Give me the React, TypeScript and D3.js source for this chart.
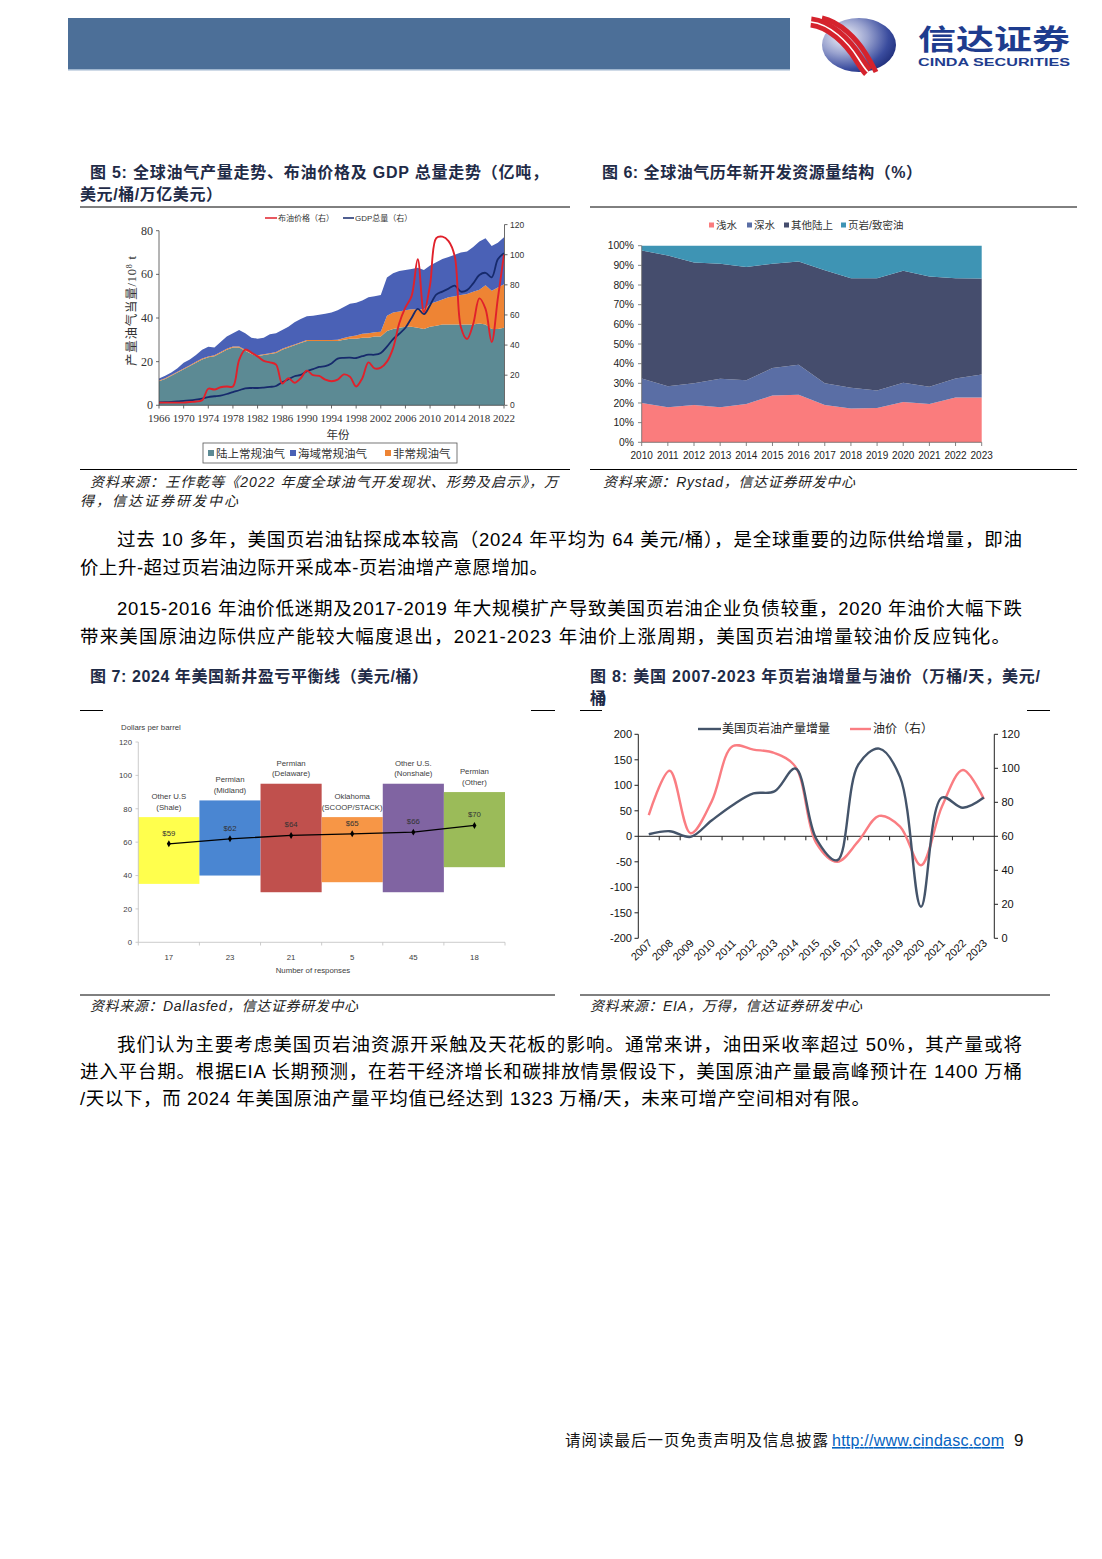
import React from 'react';
import * as d3 from 'd3';

// ================= Fig 5 data =================
const years5 = [1966,1967,1968,1969,1970,1971,1972,1973,1974,1975,
  1976,1977,1978,1979,1980,1981,1982,1983,1984,1985,
  1986,1987,1988,1989,1990,1991,1992,1993,1994,1995,
  1996,1997,1998,1999,2000,2001,2002,2003,2004,2005,
  2006,2007,2008,2009,2010,2011,2012,2013,2014,2015,
  2016,2017,2018,2019,2020,2021,2022];
const land5 = [11,12,13.5,15,16.5,18,19.5,21,22,22.5,
  24,25.5,26.5,26.5,25,23.5,22.5,23,23.5,24,
  25.5,26.5,27.5,28.5,29.5,29.5,29.5,29.5,29.5,29.5,
  30,30.5,30.5,31,31,31.5,31.5,34,35,35.5,
  36,36,35.5,35,36,36.5,37,37,37,37,
  37,37,37.5,37,35,35,35.5];
const uncon5 = [0.4,0.4,0.4,0.4,0.4,0.4,0.4,0.4,0.4,0.4,
  0.4,0.4,0.4,0.4,0.4,0.4,0.4,0.4,0.4,0.4,
  0.4,0.4,0.4,0.4,0.4,0.4,0.4,0.4,0.4,0.5,
  0.8,1,1.5,1.8,2,2,2.2,7,7.5,7.5,
  7.5,8,8.5,9,10.5,11,11.5,12.5,13,13.5,
  14,15,15.5,18,17.5,19,20];
const offshore5 = [0.9,1.1,1.1,1.6,2.6,2.6,3.1,4.1,4.4,3.6,
  4.6,5.6,6.1,7.6,7.6,7.1,7.6,7.6,8.6,8.6,
  8.6,9.1,10.1,10.6,10.9,11.1,11.6,12.1,12.6,13.5,
  14.2,15,15,15.2,16.5,16.5,16.8,17.5,18,18.5,
  18.5,18.5,19,18,17.5,18,18.5,18.5,19,19.5,
  19.5,20.5,22,21.5,20.5,20.5,21.5];
const brent5 = [1.8,1.8,1.8,1.8,1.8,2.2,2.5,3.3,11,10.5,
  12,12.5,12.5,30,37,35,32.5,29.5,28.5,27,
  14.5,18,15,18,23,20,19.5,17,16,17,
  20.5,19,12.5,18,28.5,24.5,25,29,38,54.5,
  65,72.5,97,62,80,111,112,109,99,52,
  44,54,71,64,42,71,100];
const gdp5 = [2,2.1,2.3,2.6,3,3.3,3.8,4.5,5.5,6,
  6.5,7.5,8.8,10,11.3,11.5,11.5,11.8,12.2,12.8,
  15.3,17.3,19.3,20.2,22.7,24,25.5,26,27.8,31,
  31.5,31.6,31.4,32.6,33.6,33.6,34.8,39,44,47.5,
  51.5,58,64,60.5,66.5,73.5,75.5,77.5,79.5,75.5,
  76.5,81,86.5,88,85,97,101];
const xTicks5 = [1966,1970,1974,1978,1982,1986,1990,1994,1998,2002,2006,2010,2014,2018,2022];
const yTicksL5 = [0,20,40,60,80];
const yTicksR5 = [0,20,40,60,80,100,120];
const legend5 = ['陆上常规油气','海域常规油气','非常规油气'];

// ================= Fig 6 data =================
const years6 = [2010,2011,2012,2013,2014,2015,2016,2017,2018,2019,2020,2021,2022,2023];
const shallow6 = [20,17.8,19,17.8,19.5,23.8,24.2,19,17.2,17.5,20.5,19.5,22.8,22.8];
const deep6 = [12.5,10.7,11,14.5,12,14,15.3,11,10.6,8.8,9.8,8.8,9.7,11.7];
const other6 = [65,66.5,61.5,58.5,57.7,53,52.5,57.5,55.7,57.2,57,56,51,48.8];
const shale6 = [2.5,5,8.5,9.2,10.8,9.2,8,12.5,16.5,16.5,12.7,15.7,16.5,16.7];
const legend6 = ['浅水','深水','其他陆上','页岩/致密油'];
const yTicks6 = [0,10,20,30,40,50,60,70,80,90,100];

// ================= Fig 7 data =================
const regionTop7 = ['Other U.S','Permian','Permian','Oklahoma','Other U.S.','Permian'];
const regionSub7 = ['(Shale)','(Midland)','(Delaware)','(SCOOP/STACK)','(Nonshale)','(Other)'];
const low7 = [35,40,30,36,30,45];
const high7 = [75,85,95,75,95,90];
const avg7 = [59,62,64,65,66,70];
const responses7 = [17,23,21,5,45,18];
const yTicks7 = [0,20,40,60,80,100,120];

// ================= Fig 8 data =================
const years8 = [2007,2008,2009,2010,2011,2012,2013,2014,2015,2016,2017,2018,2019,2020,2021,2022,2023];
const shale8 = [4,10,-1,31,61,84,88,133,-5,-47,140,172,116,-138,76,56,76];
const oil8 = [72.5,98.6,61.8,80.4,113,111,109,101,56,45,57,72,65.7,43,77.5,99,82];
const yTicksL8 = [-200,-150,-100,-50,0,50,100,150,200];
const yTicksR8 = [0,20,40,60,80,100,120];

const CJK = "'Liberation Sans', Arial, 'Noto Sans CJK SC', sans-serif";
const SERIF = "'Liberation Serif', 'Times New Roman', 'Noto Sans CJK SC', serif";
const NARROW = "'Liberation Sans Narrow', 'Liberation Sans', Arial, sans-serif";

const C5 = { land: '#5C8A94', uncon: '#EE8434', offshore: '#4A61B6', brent: '#E0212B', gdp: '#162A6C' };
const C6 = ['#FA7C7D', '#5A6EA5', '#454D6D', '#3E94B4'];
const C7 = ['#FFFF4D', '#4A86D2', '#C0504D', '#F79646', '#8064A2', '#9BBB59'];

function Chart5() {
  const x = d3.scaleLinear().domain([1966, 2022]).range([159, 504]);
  const yL = d3.scaleLinear().domain([0, 80]).range([405.3, 230.7]);
  const yR = d3.scaleLinear().domain([0, 120]).range([405.3, 224.6]);
  const table = years5.map((yr, i) => ({ year: yr, land: land5[i], uncon: uncon5[i], offshore: offshore5[i] }));
  const keys = ['land', 'uncon', 'offshore'];
  const series = d3.stack().keys(keys)(table as any);
  const area = d3.area<any>().x((d) => x(d.data.year)).y0((d) => yL(d[0])).y1((d) => yL(d[1]));
  const line = d3.line<number>().x((d, i) => x(years5[i])).y((d) => yR(d)).curve(d3.curveCatmullRom.alpha(0.5));
  const legendCols = [C5.land, C5.offshore, C5.uncon];
  const legendX = [208, 290, 385];
  return (
    <g>
      {series.map((s: any) => (
        <path key={s.key} d={area(s) || ''} fill={(C5 as any)[s.key]} />
      ))}
      <path d={line(gdp5) || ''} fill="none" stroke={C5.gdp} strokeWidth={1.8} />
      <path d={line(brent5) || ''} fill="none" stroke={C5.brent} strokeWidth={1.9} />
      <line x1={159} x2={159} y1={230.7} y2={405.3} stroke="#444" strokeWidth={0.8} />
      {yTicksL5.map((t) => (
        <g key={t}>
          <line x1={156} x2={159} y1={yL(t)} y2={yL(t)} stroke="#444" strokeWidth={0.8} />
          <text x={153} y={yL(t) + 4} fontSize={12} fontFamily={SERIF} textAnchor="end" fill="#333">{t}</text>
        </g>
      ))}
      <line x1={159} x2={504} y1={405.3} y2={405.3} stroke="#444" strokeWidth={0.8} />
      {xTicks5.map((t) => (
        <g key={t}>
          <line x1={x(t)} x2={x(t)} y1={405.3} y2={408.5} stroke="#444" strokeWidth={0.8} />
          <text x={x(t)} y={421.5} fontSize={11} fontFamily={SERIF} textAnchor="middle" fill="#333">{t}</text>
        </g>
      ))}
      <text x={338} y={439} fontSize={11.5} fontFamily={SERIF} textAnchor="middle" fill="#333">年份</text>
      <line x1={504.5} x2={504.5} y1={224.6} y2={405.3} stroke="#444" strokeWidth={0.8} />
      {yTicksR5.map((t) => (
        <g key={t}>
          <line x1={504.5} x2={507.5} y1={yR(t)} y2={yR(t)} stroke="#444" strokeWidth={0.8} />
          <text x={510} y={yR(t) + 3} fontSize={8.5} fontFamily={CJK} fill="#333">{t}</text>
        </g>
      ))}
      <text transform="translate(136,311) rotate(-90)" fontSize={12.5} fontFamily={SERIF} textAnchor="middle" fill="#333" textLength={110} lengthAdjust="spacing">
        产量油气当量/10<tspan dy={-4} fontSize={8}>8</tspan><tspan dy={4}> t</tspan>
      </text>
      <line x1={265} x2={277} y1={218} y2={218} stroke={C5.brent} strokeWidth={1.5} />
      <text x={278} y={221} fontSize={8} fontFamily={CJK} fill="#333">布油价格（右）</text>
      <line x1={343} x2={354} y1={218} y2={218} stroke={C5.gdp} strokeWidth={1.5} />
      <text x={355} y={221} fontSize={8} fontFamily={CJK} fill="#333">GDP总量（右）</text>
      <rect x={203} y={443} width={254} height={20} fill="#fff" stroke="#555" strokeWidth={0.8} />
      {legend5.map((n, i) => (
        <g key={n}>
          <rect x={legendX[i]} y={450} width={6} height={6} fill={legendCols[i]} />
          <text x={legendX[i] + 8} y={457.5} fontSize={11.5} fontFamily={SERIF} fill="#333">{n}</text>
        </g>
      ))}
    </g>
  );
}

function Chart6() {
  const x = d3.scaleLinear().domain([2010, 2023]).range([641.7, 981.7]);
  const y = d3.scaleLinear().domain([0, 100]).range([442.3, 245.7]);
  const table = years6.map((yr, i) => ({ year: yr, a: shallow6[i], b: deep6[i], c: other6[i], d: shale6[i] }));
  const series = d3.stack().keys(['a', 'b', 'c', 'd'])(table as any);
  const area = d3.area<any>().x((d) => x(d.data.year)).y0((d) => y(d[0])).y1((d) => y(d[1]));
  const legX = [709, 747, 784, 841];
  return (
    <g>
      {series.map((s: any, i: number) => (
        <path key={s.key} d={area(s) || ''} fill={C6[i]} />
      ))}
      <line x1={641.7} x2={641.7} y1={245.7} y2={442.3} stroke="#666" strokeWidth={0.8} />
      {yTicks6.map((t) => (
        <g key={t}>
          <line x1={638} x2={641.7} y1={y(t)} y2={y(t)} stroke="#666" strokeWidth={0.8} />
          <text x={634} y={y(t) + 3.6} fontSize={10.3} fontFamily={CJK} textAnchor="end" fill="#222">{t}%</text>
        </g>
      ))}
      <line x1={641.7} x2={981.7} y1={442.3} y2={442.3} stroke="#666" strokeWidth={0.8} />
      {years6.map((t) => (
        <g key={t}>
          <line x1={x(t)} x2={x(t)} y1={442.3} y2={446} stroke="#666" strokeWidth={0.8} />
          <text x={x(t)} y={459} fontSize={10} fontFamily={CJK} textAnchor="middle" fill="#222">{t}</text>
        </g>
      ))}
      {legend6.map((n, i) => (
        <g key={n}>
          <rect x={legX[i]} y={222.5} width={5} height={5} fill={C6[i]} />
          <text x={legX[i] + 7} y={228.8} fontSize={10.5} fontFamily={CJK} fill="#333">{n}</text>
        </g>
      ))}
    </g>
  );
}

function Chart7() {
  const idx = regionSub7.map((_, i) => String(i));
  const x = d3.scaleBand().domain(idx).range([138.3, 505]).padding(0);
  const y = d3.scaleLinear().domain([0, 120]).range([942.3, 742]);
  const bw = x.bandwidth();
  const cx = (i: number) => (x(String(i)) as number) + bw / 2;
  const line = d3.line<number>().x((d, i) => cx(i)).y((d) => y(d));
  const bounds = idx.map((k) => x(k) as number).concat([505]);
  return (
    <g>
      {low7.map((lo, i) => (
        <rect key={i} x={x(String(i))} y={y(high7[i])} width={bw} height={y(lo) - y(high7[i])} fill={C7[i]} />
      ))}
      <path d={line(avg7) || ''} fill="none" stroke="#000" strokeWidth={1.3} />
      {avg7.map((v, i) => (
        <g key={i}>
          <path d={d3.symbol(d3.symbolDiamond, 14)() || ''} transform={`translate(${cx(i)},${y(v)})`} fill="#000" />
          <text x={cx(i)} y={y(v) - 8} fontSize={7.8} fontFamily={NARROW} textAnchor="middle" fill="#333">${v}</text>
          <text x={cx(i)} y={y(high7[i]) - 18} fontSize={7.8} fontFamily={NARROW} textAnchor="middle" fill="#404040">{regionTop7[i]}</text>
          <text x={cx(i)} y={y(high7[i]) - 7.5} fontSize={7.8} fontFamily={NARROW} textAnchor="middle" fill="#404040">{regionSub7[i]}</text>
          <text x={cx(i)} y={959.5} fontSize={7.8} fontFamily={NARROW} textAnchor="middle" fill="#404040">{responses7[i]}</text>
        </g>
      ))}
      <line x1={138.3} x2={138.3} y1={742} y2={942.3} stroke="#BFBFBF" strokeWidth={0.8} />
      {yTicks7.map((t) => (
        <g key={t}>
          <line x1={135.5} x2={138.3} y1={y(t)} y2={y(t)} stroke="#BFBFBF" strokeWidth={0.8} />
          <text x={132} y={y(t) + 2.8} fontSize={7.8} fontFamily={NARROW} textAnchor="end" fill="#404040">{t}</text>
        </g>
      ))}
      <line x1={138.3} x2={505} y1={942.3} y2={942.3} stroke="#BFBFBF" strokeWidth={0.8} />
      {bounds.map((b, i) => (
        <line key={i} x1={b} x2={b} y1={942.3} y2={945.5} stroke="#BFBFBF" strokeWidth={0.8} />
      ))}
      <text x={121} y={730} fontSize={7.8} fontFamily={NARROW} fill="#404040">Dollars per barrel</text>
      <text x={313} y={973} fontSize={7.8} fontFamily={NARROW} textAnchor="middle" fill="#404040">Number of responses</text>
    </g>
  );
}

function Chart8() {
  const x = d3.scaleBand().domain(years8.map(String)).range([638.3, 994.3]).padding(0);
  const yL = d3.scaleLinear().domain([-200, 200]).range([938.3, 734.3]);
  const yR = d3.scaleLinear().domain([0, 120]).range([938.3, 734.3]);
  const bw = x.bandwidth();
  const cx = (i: number) => (x(String(years8[i])) as number) + bw / 2;
  const lineL = d3.line<number>().x((d, i) => cx(i)).y((d) => yL(d)).curve(d3.curveCatmullRom.alpha(0.5));
  const lineR = d3.line<number>().x((d, i) => cx(i)).y((d) => yR(d)).curve(d3.curveCatmullRom.alpha(0.5));
  const z = yL(0);
  const bounds = years8.map((yr) => x(String(yr)) as number).slice(1);
  return (
    <g>
      <line x1={638.3} x2={994.3} y1={z} y2={z} stroke="#222" strokeWidth={1} />
      {bounds.map((b, i) => (
        <line key={i} x1={b} x2={b} y1={z} y2={z + 4} stroke="#222" strokeWidth={1} />
      ))}
      <line x1={638.3} x2={638.3} y1={734.3} y2={938.3} stroke="#222" strokeWidth={1} />
      {yTicksL8.map((t) => (
        <g key={t}>
          <line x1={634.5} x2={638.3} y1={yL(t)} y2={yL(t)} stroke="#222" strokeWidth={1} />
          <text x={632} y={yL(t) + 4} fontSize={11} fontFamily={CJK} textAnchor="end" fill="#111">{t}</text>
        </g>
      ))}
      <line x1={994.3} x2={994.3} y1={734.3} y2={938.3} stroke="#222" strokeWidth={1} />
      {yTicksR8.map((t) => (
        <g key={t}>
          <line x1={994.3} x2={998} y1={yR(t)} y2={yR(t)} stroke="#222" strokeWidth={1} />
          <text x={1001.5} y={yR(t) + 4} fontSize={11} fontFamily={CJK} fill="#111">{t}</text>
        </g>
      ))}
      {years8.map((yr, i) => (
        <text key={yr} transform={`translate(${cx(i) + 4},${944}) rotate(-45)`} fontSize={11} fontFamily={CJK} textAnchor="end" fill="#111">{yr}</text>
      ))}
      <path d={lineR(oil8) || ''} fill="none" stroke="#FA7D82" strokeWidth={2.4} />
      <path d={lineL(shale8) || ''} fill="none" stroke="#44546A" strokeWidth={2.4} />
      <line x1={698} x2={721} y1={729} y2={729} stroke="#44546A" strokeWidth={2.4} />
      <text x={722} y={733.2} fontSize={12} fontFamily={CJK} fill="#222">美国页岩油产量增量</text>
      <line x1={850} x2={871} y1={729} y2={729} stroke="#FA7D82" strokeWidth={2.4} />
      <text x={873} y={733.2} fontSize={12} fontFamily={CJK} fill="#222">油价（右）</text>
    </g>
  );
}

const TITLE = '#1F2B47';

function Txt(props: any) {
  const { x, y, w, size = 18.5, weight, fill = '#000', italic, children, anchor } = props;
  return (
    <text x={x} y={y} fontSize={size} fontFamily={CJK} fontWeight={weight} fill={fill}
      fontStyle={italic ? 'italic' : undefined} textAnchor={anchor}
      textLength={w} lengthAdjust={w ? 'spacing' : undefined}>{children}</text>
  );
}

export default function App() {
  return (
    <svg width={1102} height={1559} style={{ position: 'absolute', left: 0, top: 0, background: '#fff' }}>
      <defs>
        <radialGradient id="globe" cx="30%" cy="35%" r="80%">
          <stop offset="0" stopColor="#F4F5FA" />
          <stop offset="0.4" stopColor="#9AA3CF" />
          <stop offset="0.75" stopColor="#3A4C9E" />
          <stop offset="1" stopColor="#1A2873" />
        </radialGradient>
      </defs>
      <rect x={0} y={0} width={1102} height={1559} fill="#fff" />
      {/* header */}
      <rect x={68} y={18} width={722} height={52} fill="#4C6F98" />
      <rect x={68} y={69} width={722} height={1.5} fill="#9FB6CF" />
      <ellipse cx={859} cy={45} rx={37} ry={27} fill="url(#globe)" />
      <path d="M 811 22 C 830 24, 848 42, 858 58 C 863 66, 866 70, 868 72" fill="none" stroke="#D5232D" strokeWidth={11} />
      <path d="M 811 22 C 830 24, 848 42, 858 58 C 863 66, 866 70, 868 72" fill="none" stroke="#fff" strokeWidth={1.6} />
      <path d="M 822 18 C 840 22, 856 38, 866 54 C 871 62, 874 68, 876 72" fill="none" stroke="#D5232D" strokeWidth={5} />
      <text x={918} y={50} fontSize={28} fontWeight="bold" fontFamily={CJK} fill="#1E3C8E" textLength={152} lengthAdjust="spacingAndGlyphs">信达证券</text>
      <text x={918} y={66} fontSize={11} fontWeight="bold" fontFamily={CJK} fill="#1E3C8E" textLength={152} lengthAdjust="spacingAndGlyphs">CINDA SECURITIES</text>

      {/* fig 5 / 6 titles */}
      <Txt x={90} y={178} w={458} size={16} weight="bold" fill={TITLE}>图 5: 全球油气产量走势、布油价格及 GDP 总量走势（亿吨，</Txt>
      <Txt x={80} y={200} w={142} size={16} weight="bold" fill={TITLE}>美元/桶/万亿美元）</Txt>
      <Txt x={602} y={178} w={320} size={16} weight="bold" fill={TITLE}>图 6: 全球油气历年新开发资源量结构（%）</Txt>
      <line x1={80} x2={570} y1={207} y2={207} stroke="#000" strokeWidth={1} />
      <line x1={590} x2={1077} y1={207} y2={207} stroke="#000" strokeWidth={1} />
      <Chart5 />
      <Chart6 />
      <line x1={80} x2={570} y1={469.5} y2={469.5} stroke="#000" strokeWidth={1} />
      <line x1={590} x2={1077} y1={469.5} y2={469.5} stroke="#000" strokeWidth={1} />
      <Txt x={90} y={486.5} w={468} size={14} italic fill="#222">资料来源：王作乾等《2022 年度全球油气开发现状、形势及启示》，万</Txt>
      <Txt x={80} y={505.5} w={158} size={14} italic fill="#222">得，信达证券研发中心</Txt>
      <Txt x={603} y={486.5} w={252} size={14} italic fill="#222">资料来源：Rystad，信达证券研发中心</Txt>

      {/* body paragraphs */}
      <Txt x={117} y={546} w={905}>过去 10 多年，美国页岩油钻探成本较高（2024 年平均为 64 美元/桶），是全球重要的边际供给增量，即油</Txt>
      <Txt x={80} y={574} w={468}>价上升-超过页岩油边际开采成本-页岩油增产意愿增加。</Txt>
      <Txt x={117} y={615} w={905}>2015-2016 年油价低迷期及2017-2019 年大规模扩产导致美国页岩油企业负债较重，2020 年油价大幅下跌</Txt>
      <Txt x={80} y={643} w={930}>带来美国原油边际供应产能较大幅度退出，2021-2023 年油价上涨周期，美国页岩油增量较油价反应钝化。</Txt>

      {/* fig 7 / 8 titles */}
      <Txt x={90} y={682} w={338} size={16} weight="bold" fill={TITLE}>图 7: 2024 年美国新井盈亏平衡线（美元/桶）</Txt>
      <Txt x={590} y={682} w={450} size={16} weight="bold" fill={TITLE}>图 8: 美国 2007-2023 年页岩油增量与油价（万桶/天，美元/</Txt>
      <Txt x={590} y={704} w={26} size={16} weight="bold" fill={TITLE}>桶）</Txt>
      <line x1={80} x2={103} y1={710.5} y2={710.5} stroke="#000" strokeWidth={1} />
      <line x1={531} x2={555} y1={710.5} y2={710.5} stroke="#000" strokeWidth={1} />
      <line x1={580} x2={602} y1={710.5} y2={710.5} stroke="#000" strokeWidth={1} />
      <line x1={1027} x2={1050} y1={710.5} y2={710.5} stroke="#000" strokeWidth={1} />
      <Chart7 />
      <Chart8 />
      <line x1={80} x2={555} y1={995} y2={995} stroke="#000" strokeWidth={1} />
      <line x1={580} x2={1050} y1={995} y2={995} stroke="#000" strokeWidth={1} />
      <Txt x={90} y={1010.5} w={268} size={14} italic fill="#222">资料来源：Dallasfed，信达证券研发中心</Txt>
      <Txt x={590} y={1010.5} w={272} size={14} italic fill="#222">资料来源：EIA，万得，信达证券研发中心</Txt>

      <Txt x={117} y={1051} w={905}>我们认为主要考虑美国页岩油资源开采触及天花板的影响。通常来讲，油田采收率超过 50%，其产量或将</Txt>
      <Txt x={80} y={1078} w={942}>进入平台期。根据EIA 长期预测，在若干经济增长和碳排放情景假设下，美国原油产量最高峰预计在 1400 万桶</Txt>
      <Txt x={80} y={1105} w={790}>/天以下，而 2024 年美国原油产量平均值已经达到 1323 万桶/天，未来可增产空间相对有限。</Txt>

      {/* footer */}
      <Txt x={565} y={1446} w={263} size={15.5} fill="#111">请阅读最后一页免责声明及信息披露</Txt>
      <text x={832} y={1446} fontSize={16} fontFamily={CJK} fill="#0563C1" textLength={172} lengthAdjust="spacing" textDecoration="underline">http://www.cindasc.com</text>
      <text x={1014} y={1446} fontSize={17} fontFamily={CJK} fill="#111">9</text>
    </svg>
  );
}
